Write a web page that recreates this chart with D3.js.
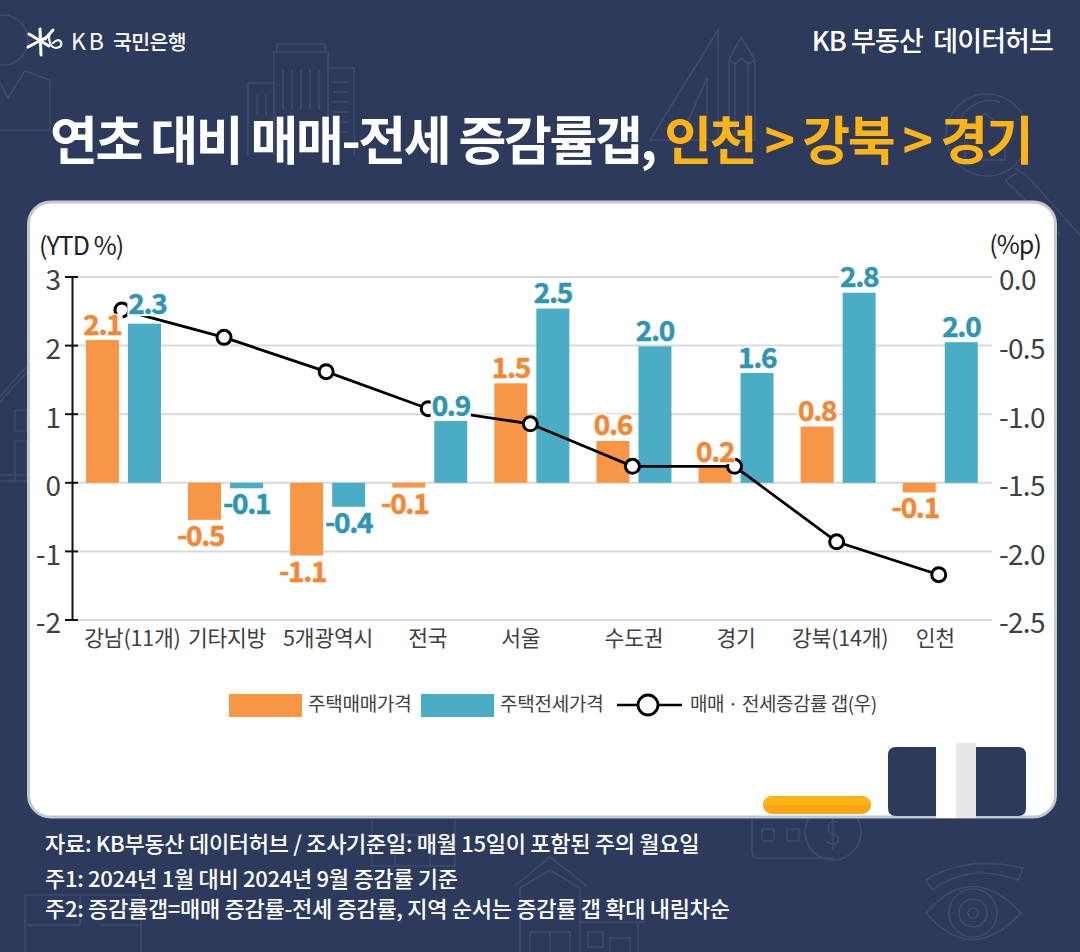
<!DOCTYPE html>
<html>
<head>
<meta charset="utf-8">
<script src="https://cdn.jsdelivr.net/npm/d3@7"></script>
<style>
  html, body { margin: 0; padding: 0; background: #2d3a5c; }
  svg { display: block; }
  text { font-family: "Noto Sans CJK KR", "Noto Sans", sans-serif; white-space: pre; }
</style>
</head>
<body>
<svg id="chart" width="1080" height="952"></svg>
<script>
// chart values
var categories = ["강남(11개)", "기타지방", "5개광역시", "전국", "서울", "수도권", "경기", "강북(14개)", "인천"];
var salePrice = [2.08, -0.54, -1.06, -0.07, 1.45, 0.61, 0.22, 0.82, -0.14];
var jeonsePrice = [2.32, -0.08, -0.35, 0.90, 2.54, 1.99, 1.60, 2.77, 2.05];
var gap = [-0.24, -0.44, -0.69, -0.96, -1.07, -1.38, -1.38, -1.93, -2.17];
var saleLabels = ["2.1", "-0.5", "-1.1", "-0.1", "1.5", "0.6", "0.2", "0.8", "-0.1"];
var jeonseLabels = ["2.3", "-0.1", "-0.4", "0.9", "2.5", "2.0", "1.6", "2.8", "2.0"];
var leftTicks = [-2, -1, 0, 1, 2, 3];
var rightTicks = [0, -0.5, -1, -1.5, -2, -2.5];
var footnotes = [
  "자료: KB부동산 데이터허브 / 조사기준일: 매월 15일이 포함된 주의 월요일",
  "주1: 2024년 1월 대비 2024년 9월 증감률 기준",
  "주2: 증감률갭=매매 증감률-전세 증감률, 지역 순서는 증감률 갭 확대 내림차순"
];

var NAVY = "#2d3a5c", ICON = "#3f4b6c", ORANGE = "#f79646", BLUE = "#4bacc6";
var ORANGE_TXT = "#f58632", BLUE_TXT = "#2f95b3", YELLOW = "#fdb414";

var svg = d3.select("#chart");
svg.append("rect").attr("width", 1080).attr("height", 952).attr("fill", NAVY);

function ring(cx, cy, r){
  return "M" + (cx - r) + " " + cy + " a" + r + " " + r + " 0 1 0 " + (2 * r) + " 0 a" + r + " " + r + " 0 1 0 " + (-2 * r) + " 0";
}

// faint line icons behind everything
var icons = svg.append("g").attr("fill", "none").attr("stroke", ICON).attr("stroke-width", 1.5);
[
  // person, top left
  ring(3, 40, 25), "M0 82 L8 98 L25 71 L50 80 V130 H0",
  // buildings
  "M248 155 V83 H274 V155", "M274 155 V52 H328 V155", "M328 155 V68 H354 V155", "M277 52 V44 H325 V52",
  "M283 70 V110 M292 70 V110 M301 70 V110 M310 70 V110 M319 70 V110", "M257 95 V115 M266 95 V115",
  "M333 82 H348 M333 92 H348 M333 102 H348 M333 112 H348 M333 122 H348 M333 132 H348",
  // ruler and pencil
  "M650 140 L718 30 V140 Z", "M680 140 L707 78 V140 Z", "M729 140 V60 L741 37 L755 60 V140 Z", "M735 62 V140 M748 62 V140 M729 60 L735 64 L741 58 L748 64 L755 60",
  // magnifier
  ring(987, 135, 41), "M958 125 A34 34 0 0 1 1000 102", "M965 160 V130 L985 113 L1005 130 V160 Z",
  "M1015 168 L1027 176 L1080 235 M1005 180 L1017 173 M1005 180 L1060 235",
  // left edge house
  "M0 402 L27 372 M0 396 L27 366", "M15 410 H27 V431 H15 Z M15 441 H27 V481 H15 Z M0 475 H27 M0 481 H27",
  // coins, bottom
  "M752 810 V852 Q752 858 758 858 H833", ring(833, 832, 28), "M762 829 h12 v12 h-12 Z M787 829 h12 v12 h-12 Z", "M838 822 Q828 820 828 828 Q828 834 834 834 Q840 836 838 842 Q834 846 827 842 M833 816 V850",
  // small icon under the source line
  "M372 820 V866 H455 V820", "M395 866 V835 H430 V866",
  // houses, bottom
  "M515 886 L550 857 L587 886 M520 888 L550 870 L580 888 M520 888 V952 M580 888 V952", "M530 952 V932 H570 V952 M550 932 V952", "M580 922 H645 M638 922 V952", "M588 932 H603 V947 H588 Z M610 952 V938 H630 V952",
  // floor plan, bottom left
  "M25 895 H141 V952 M25 895 V952 M25 925 H80 M80 895 V925 M100 925 H141",
  // eye, bottom right
  "M926 880 Q965 855 1023 868 Q1020 876 1018 880 Q970 862 932 890 Z", "M926 913 Q972 860 1021 913 Q972 966 926 913 Z", ring(973, 913, 24), ring(973, 913, 14), ring(973, 913, 5)
].forEach(function(d){ icons.append("path").attr("d", d); });

// header
var star = svg.append("g").attr("stroke", "#fff").attr("fill", "none").attr("stroke-width", 3).attr("stroke-linecap", "round");
star.append("path").attr("d", "M28 47 L49 36 M29 34 L49 46 M40 29 L41 55 M53 30 L45 39");
star.append("path").attr("d", "M49 38 Q50 48 56 48 Q63 47 61 42 Q58 38 53 43").attr("stroke-width", 2.2);
svg.append("text").attr("x", 71).attr("y", 50).attr("fill", "#fff").attr("font-size", 23).attr("font-weight", 400).attr("letter-spacing", 3).text("KB");
svg.append("text").attr("x", 113).attr("y", 50).attr("fill", "#fff").attr("font-size", 20.5).attr("font-weight", 500).attr("letter-spacing", -0.6).text("국민은행");
svg.append("text").attr("x", 1053).attr("y", 51).attr("text-anchor", "end").attr("fill", "#fff").attr("font-size", 27).attr("font-weight", 500).attr("letter-spacing", -0.9).text("KB 부동산  데이터허브");

var title = svg.append("text").attr("x", 50).attr("y", 160).attr("font-size", 52).attr("font-weight", 700).attr("letter-spacing", -2.4).attr("fill", "#fff");
title.append("tspan").text("연초 대비 매매-전세 증감률갭, ");
title.append("tspan").attr("fill", YELLOW).text("인천 > 강북 > 경기");

// white panel
svg.append("rect").attr("x", 28.5).attr("y", 202).attr("width", 1027).attr("height", 615).attr("rx", 22)
  .attr("fill", "#fff").attr("stroke", "#c4c7cf").attr("stroke-width", 3);

// binder and pill at the panel bottom
svg.append("path").attr("fill", NAVY)
  .attr("d", "M888 755 Q888 747 896 747 H1018 Q1026 747 1026 755 V808 Q1026 816 1018 816 H896 Q888 816 888 808 Z");
svg.append("rect").attr("x", 936).attr("y", 743).attr("width", 20).attr("height", 75).attr("fill", "#fff");
svg.append("rect").attr("x", 956).attr("y", 743).attr("width", 20).attr("height", 75).attr("fill", "#e6e6e6");
svg.append("rect").attr("x", 763).attr("y", 796).attr("width", 108).attr("height", 18).attr("rx", 9).attr("fill", "#f9a51a");
svg.append("path").attr("fill", YELLOW).attr("d", "M763 805 A9 9 0 0 1 772 796 H862 A9 9 0 0 1 871 805 Z");

// scales
var x = d3.scaleBand().domain(categories).range([72.4, 991.3]);
var yLeft = d3.scaleLinear().domain([-2, 3]).range([620, 277]);
var yRight = d3.scaleLinear().domain([-2.5, 0]).range([620, 277]);
var barW = 33, barGap = 9;

// gridlines
svg.append("g").selectAll("line").data(leftTicks).join("line")
  .attr("x1", 72).attr("x2", 992)
  .attr("y1", function(d){ return yLeft(d); }).attr("y2", function(d){ return yLeft(d); })
  .attr("stroke", "#d9d9d9").attr("stroke-width", 2);

// left axis
var axisL = svg.append("g").attr("transform", "translate(72,0)")
  .call(d3.axisLeft(yLeft).tickValues(leftTicks).tickFormat(function(d){ return String(d); }).tickSize(0).tickPadding(11));
axisL.select(".domain").attr("stroke", "#111").attr("stroke-width", 2);
axisL.selectAll("text").attr("font-size", 28).attr("font-weight", 400).attr("fill", "#404040").attr("y", 4).attr("font-family", '"Noto Sans CJK KR"');
svg.append("g").selectAll("line").data(leftTicks).join("line")
  .attr("x1", 65).attr("x2", 78)
  .attr("y1", function(d){ return yLeft(d); }).attr("y2", function(d){ return yLeft(d); })
  .attr("stroke", "#111").attr("stroke-width", 2);

// right axis, labels only
var axisR = svg.append("g").attr("transform", "translate(992,0)")
  .call(d3.axisRight(yRight).tickValues(rightTicks).tickFormat(function(d){ return d.toFixed(1); }).tickSize(0).tickPadding(7));
axisR.select(".domain").remove();
axisR.selectAll("text").attr("font-size", 28).attr("font-weight", 400).attr("fill", "#404040").attr("y", 4).attr("letter-spacing", -0.7).attr("font-family", '"Noto Sans CJK KR"');

// category labels sit unevenly in the original
var catNudge = [10, 2.5, 1.5, -1, -10, 1, 1, 3, -4];
svg.append("g").selectAll("text").data(categories).join("text")
  .attr("x", function(d, i){ return x(d) + x.bandwidth() / 2 - 1 + catNudge[i]; })
  .attr("y", 646).attr("text-anchor", "middle").attr("font-size", 21.5).attr("fill", "#404040").attr("letter-spacing", -0.2)
  .text(function(d){ return d; });

svg.append("text").attr("x", 39).attr("y", 255).attr("font-size", 25).attr("fill", "#222").attr("letter-spacing", -0.9).text("(YTD %)");
svg.append("text").attr("x", 1041).attr("y", 254).attr("text-anchor", "end").attr("font-size", 25).attr("fill", "#222").attr("letter-spacing", -0.9).text("(%p)");

// bars
function barX(i, offset){ return x(categories[i]) + x.bandwidth() / 2 + offset; }
svg.append("g").selectAll("rect").data(salePrice).join("rect")
  .attr("x", function(d, i){ return barX(i, -barGap / 2 - barW); })
  .attr("y", function(d){ return Math.min(yLeft(d), yLeft(0)); })
  .attr("width", barW)
  .attr("height", function(d){ return Math.abs(yLeft(d) - yLeft(0)); })
  .attr("fill", ORANGE);
svg.append("g").selectAll("rect").data(jeonsePrice).join("rect")
  .attr("x", function(d, i){ return barX(i, barGap / 2); })
  .attr("y", function(d){ return Math.min(yLeft(d), yLeft(0)); })
  .attr("width", barW)
  .attr("height", function(d){ return Math.abs(yLeft(d) - yLeft(0)); })
  .attr("fill", BLUE);

// gap line on the right axis
var line = d3.line()
  .x(function(d, i){ return x(categories[i]) + x.bandwidth() / 2 - 1.5; })
  .y(function(d){ return yRight(d); });
svg.append("path").datum(gap).attr("d", line).attr("fill", "none").attr("stroke", "#000").attr("stroke-width", 2.8);
svg.append("g").selectAll("circle").data(gap).join("circle")
  .attr("cx", function(d, i){ return x(categories[i]) + x.bandwidth() / 2 - 1.5; })
  .attr("cy", function(d){ return yRight(d); })
  .attr("r", 7).attr("fill", "#fff").attr("stroke", "#000").attr("stroke-width", 3);

// value labels, each on its own white box like the original
function drawLabels(values, labels, offset, color, isSale){
  var g = svg.append("g");
  values.forEach(function(v, i){
    var isFirstBlue = labels[i] === "2.3" && !isSale;
    var nudge = isFirstBlue ? 3 : (isSale && v < 0 ? -4 : 0);
    var cx = barX(i, offset) + nudge;
    var baseline = v >= 0 ? yLeft(v) - 5.5 - (isFirstBlue ? 4 : 0) : yLeft(v) + 26;
    var box = g.append("rect").attr("fill", "#fff");
    var t = g.append("text").attr("x", cx).attr("y", baseline)
      .attr("text-anchor", "middle").attr("font-size", 28).attr("font-weight", 700)
      .attr("letter-spacing", -1.3).attr("fill", color)
      .attr("stroke", color).attr("stroke-width", 0.5).text(labels[i]);
    var w = t.node().getComputedTextLength();
    box.attr("x", cx - w / 2 - 1).attr("y", baseline - 21).attr("width", w + 2).attr("height", 23);
  });
}
drawLabels(salePrice, saleLabels, -barGap / 2 - barW / 2, ORANGE_TXT, true);
drawLabels(jeonsePrice, jeonseLabels, barGap / 2 + barW / 2, BLUE_TXT, false);

// legend
var legend = svg.append("g").attr("font-size", 19).attr("fill", "#404040").attr("letter-spacing", -0.25);
legend.append("rect").attr("x", 229).attr("y", 694).attr("width", 73).attr("height", 23).attr("fill", ORANGE);
legend.append("text").attr("x", 308).attr("y", 711).text("주택매매가격");
legend.append("rect").attr("x", 421).attr("y", 694).attr("width", 73).attr("height", 23).attr("fill", BLUE);
legend.append("text").attr("x", 500).attr("y", 711).text("주택전세가격");
legend.append("line").attr("x1", 617).attr("x2", 682).attr("y1", 705).attr("y2", 705).attr("stroke", "#000").attr("stroke-width", 2.6);
legend.append("circle").attr("cx", 648).attr("cy", 705).attr("r", 10).attr("fill", "#fff").attr("stroke", "#000").attr("stroke-width", 2.8);
legend.append("text").attr("x", 690).attr("y", 711).attr("letter-spacing", -0.45).text("매매 · 전세증감률 갭(우)");

// footnotes
svg.append("g").selectAll("text").data(footnotes).join("text")
  .attr("x", 45)
  .attr("y", function(d, i){ return [852, 887, 917][i]; })
  .attr("font-size", 22).attr("font-weight", 500).attr("letter-spacing", -0.3).attr("fill", "#fff")
  .text(function(d){ return d; });
</script>
</body>
</html>
